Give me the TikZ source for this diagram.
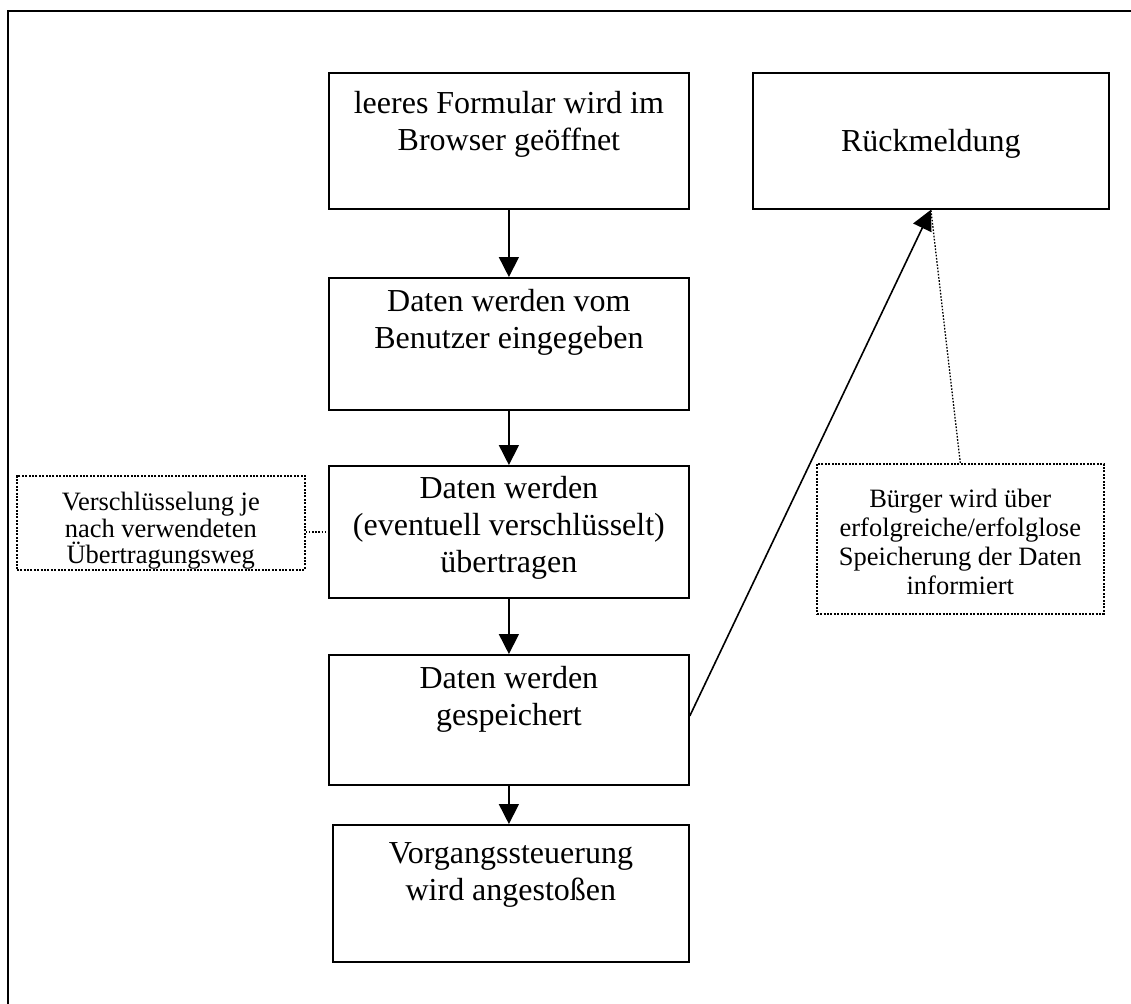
\documentclass[tikz,border=0pt]{standalone}
\usepackage{fontspec}
\setmainfont{Liberation Serif}
\usetikzlibrary{arrows.meta,calc}
\newcommand{\flowtext}[4]{\begin{minipage}[t][#2pt][t]{#1pt}\centering\fontsize{32}{37}\selectfont\rule{0pt}{#3pt}#4\end{minipage}}
\newcommand{\notetext}[5]{\begin{minipage}[t][#2pt][t]{#1pt}\centering\fontsize{26.5}{#5}\selectfont\rule{0pt}{#3pt}#4\end{minipage}}
\begin{document}
\begin{tikzpicture}[x=1pt,y=-1pt,
  flowbox/.style={draw, line width=1.8pt, inner sep=0pt, anchor=north west},
  notebox/.style={draw, line width=1.6pt, dash pattern=on 2pt off 1.4pt, inner sep=0pt, anchor=north west},
  flowarrow/.style={line width=1.6pt, -{Triangle[length=20pt,width=20pt]}},
  noteline/.style={line width=1.3pt, dash pattern=on 1.6pt off 1.6pt}]
\useasboundingbox (0,0) rectangle (1131,1003);
\draw[line width=2.5pt] (8,1010) -- (8,11) -- (1140,11);

\node[flowbox] (b1) at (328,72) {\flowtext{360}{136}{41}{leeres Formular wird im\\Browser geöffnet}};
\node[flowbox] (r) at (752,72) {\flowtext{356}{136}{79}{Rückmeldung}};
\node[flowbox] (b2) at (328,277) {\flowtext{360}{132}{34}{Daten werden vom\\Benutzer eingegeben}};
\node[flowbox] (b3) at (328,465) {\flowtext{360}{132}{33}{Daten werden\\(eventuell verschlüsselt)\\übertragen}};
\node[flowbox] (b4) at (328,654) {\flowtext{360}{130}{34}{Daten werden\\gespeichert}};
\node[flowbox] (b5) at (332,824) {\flowtext{356}{137}{39}{Vorgangssteuerung\\wird angestoßen}};

\node[notebox] (n1) at (16,475) {\notetext{288}{94}{35}{Verschlüsselung je\\nach verwendeten\\Übertragungsweg}{26.5}};
\node[notebox] (n2) at (816,463) {\notetext{287}{150}{44}{Bürger wird über\\erfolgreiche/erfolglose\\Speicherung der Daten\\informiert}{29}};

\draw[flowarrow] (b1.south) -- (b2.north);
\draw[flowarrow] (b2.south) -- (b3.north);
\draw[flowarrow] (b3.south) -- (b4.north);
\draw[flowarrow] (b4.south) -- (b4.south |- b5.north);
\draw[flowarrow] ($(b4.east)+(0,-4)$) -- (r.south);
\draw[noteline] (n2.north) -- (r.south);
\draw[noteline] (n1.east |- b3.west) -- (b3.west);
\end{tikzpicture}
\end{document}
